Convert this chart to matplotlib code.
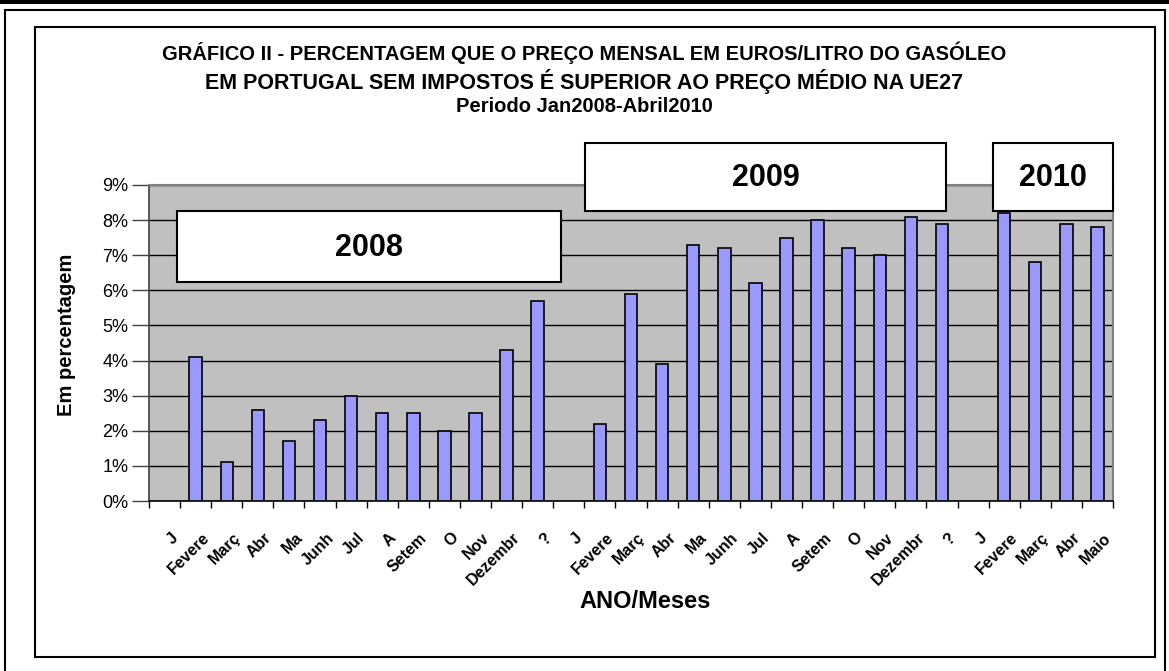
import numpy as np
import matplotlib
matplotlib.use("Agg")
import matplotlib.pyplot as plt
from matplotlib.patches import Rectangle
from matplotlib.ticker import FuncFormatter, FixedLocator
from matplotlib.transforms import ScaledTranslation

# ---------------- data ----------------
categories = ["J", "Fevere", "Març", "Abr", "Ma", "Junh", "Jul", "A", "Setem", "O", "Nov", "Dezembr",
              "?", "J", "Fevere", "Març", "Abr", "Ma", "Junh", "Jul", "A", "Setem", "O", "Nov", "Dezembr",
              "?", "J", "Fevere", "Març", "Abr", "Maio"]
values_2008 = [4.1, 1.1, 2.6, 1.7, 2.3, 3.0, 2.5, 2.5, 2.0, 2.5, 4.3, 5.7]
values_2009 = [2.2, 5.9, 3.9, 7.3, 7.2, 6.2, 7.5, 8.0, 7.2, 7.0, 8.1, 7.9]
values_2010 = [8.2, 6.8, 7.9, 7.8]
year_labels = ["2008", "2009", "2010"]
title_lines = ["GRÁFICO II - PERCENTAGEM QUE O PREÇO MENSAL EM EUROS/LITRO DO GASÓLEO",
               "EM PORTUGAL SEM IMPOSTOS É SUPERIOR AO PREÇO MÉDIO NA UE27",
               "Periodo Jan2008-Abril2010"]
y_ticks = [0, 1, 2, 3, 4, 5, 6, 7, 8, 9]

# series laid out on the category axis: a blank category before each year
series = [np.nan] + values_2008 + [np.nan] + values_2009 + [np.nan] + values_2010
series = np.array(series) / 100.0

W, H = 1169, 671
fig = plt.figure(figsize=(W / 100, H / 100), dpi=100)
FONT = ["Liberation Sans", "DejaVu Sans"]
plt.rcParams["font.family"] = FONT


def px_rect(x0, y0, x1, y1, **kw):
    r = Rectangle((x0 / W, 1 - y1 / H), (x1 - x0) / W, (y1 - y0) / H,
                  transform=fig.transFigure, **kw)
    fig.patches.append(r)
    return r


# page borders
px_rect(0, 0, W, 4, facecolor="black", edgecolor="none")
px_rect(5, 10, 1165, 690, facecolor="none", edgecolor="black", linewidth=1.5)
px_rect(35, 27, 1155, 657, facecolor="none", edgecolor="black", linewidth=1.5)

# plot area
L, T, R, B = 149, 185, 1113, 501
ax = fig.add_axes([L / W, 1 - B / H, (R - L) / W, (B - T) / H])
ax.set_facecolor("#C0C0C0")
x = np.arange(len(categories))
ax.bar(x, series, width=0.4, color="#9999FF", edgecolor="black", linewidth=1.2, zorder=3)
ax.set_xlim(-0.5, len(categories) - 0.5)
ax.set_ylim(0, 0.09)

ax.set_yticks(np.array(y_ticks) / 100.0)
ax.yaxis.set_major_formatter(FuncFormatter(lambda v, p: f"{v*100:.0f}%"))
ax.yaxis.grid(True, color="black", linewidth=1.0, zorder=1)
ax.set_axisbelow(True)
ax.tick_params(axis="y", direction="out", length=12, width=1, color="#404040",
               labelsize=13, pad=3)

ax.set_xticks(x)
ax.set_xticklabels(categories, rotation=45, ha="right", rotation_mode="anchor",
                   fontsize=11.5, fontweight="bold")
ax.xaxis.set_minor_locator(FixedLocator(np.arange(-0.5, len(categories), 1.0)))
ax.tick_params(axis="x", which="major", length=0, pad=21)
ax.tick_params(axis="x", which="minor", direction="out", length=5, width=1, color="black")
for lab in ax.get_xticklabels():
    lab.set_transform(lab.get_transform() + ScaledTranslation(6 / 100, 0, fig.dpi_scale_trans))

for s in ["top", "right"]:
    ax.spines[s].set_color("#808080")
    ax.spines[s].set_linewidth(1.5)
ax.spines["left"].set_color("#404040")
ax.spines["bottom"].set_color("black")
ax.spines["left"].set_linewidth(1.2)
ax.spines["bottom"].set_linewidth(1.2)

ax.set_ylabel("Em percentagem", fontsize=14.5, fontweight="bold")
ax.yaxis.set_label_coords((76 - L) / (R - L), (B - 335) / (B - T))
ax.set_xlabel("ANO/Meses", fontsize=17, fontweight="bold")
ax.xaxis.set_label_coords((645 - L) / (R - L), (B - 590) / (B - T))

# year boxes
boxes = [(177, 211, 561, 282), (585, 143, 946, 211), (993, 143, 1113, 211)]
for (x0, y0, x1, y1), lab in zip(boxes, year_labels):
    px_rect(x0, y0, x1, y1, facecolor="white", edgecolor="black", linewidth=1.5, zorder=5)
    fig.text((x0 + x1) / 2 / W, 1 - ((y0 + y1) / 2 + 1) / H, lab, ha="center", va="center",
             fontsize=22, fontweight="bold", zorder=6)

# title
fig.text(584 / W, 1 - 53 / H, title_lines[0], ha="center", va="center", fontsize=14.5, fontweight="bold")
fig.text(584 / W, 1 - 81 / H, title_lines[1], ha="center", va="center", fontsize=15.5, fontweight="bold")
fig.text(584 / W, 1 - 106 / H, title_lines[2], ha="center", va="center", fontsize=14.5, fontweight="bold")

fig.savefig("out.png", dpi=100)
